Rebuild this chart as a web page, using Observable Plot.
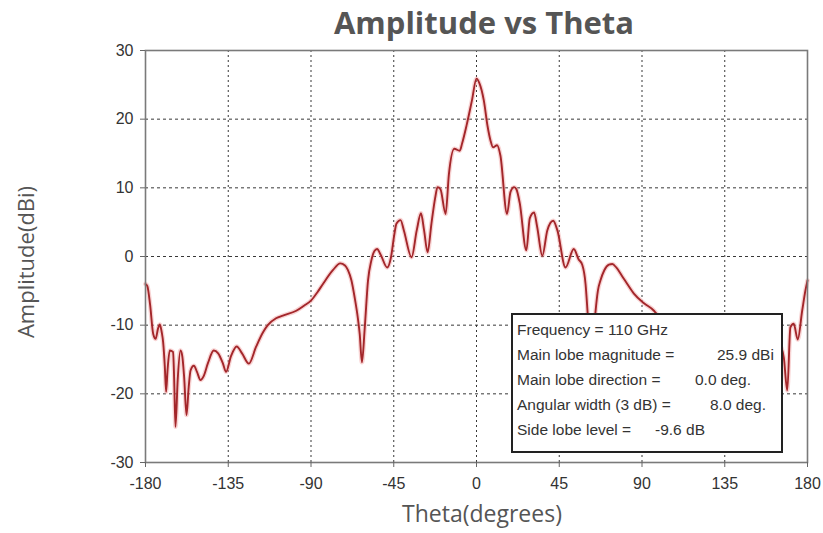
<!DOCTYPE html>
<html>
<head>
<meta charset="utf-8">
<script src="https://cdn.jsdelivr.net/npm/d3@7"></script>
<script src="https://cdn.jsdelivr.net/npm/@observablehq/plot@0.6"></script>
<style>
  html, body { margin: 0; padding: 0; background: #fff; }
  #wrap { position: relative; width: 823px; height: 533px; overflow: hidden; }
  #chart { position: absolute; left: 0; top: 0; }
  .title { position: absolute; left: 484px; top: 7px; transform: translateX(-50%); font-family: "Open Sans", sans-serif; font-weight: 700; font-size: 31px; line-height: 31px; color: #555; white-space: nowrap; }
  .xlabel { position: absolute; left: 482px; top: 502px; transform: translateX(-50%); font-family: "Open Sans", sans-serif; font-size: 23px; line-height: 23px; color: #555; white-space: nowrap; }
  .ylabel { position: absolute; left: 25px; top: 262px; transform: translate(-50%, -50%) rotate(-90deg); font-family: "Open Sans", sans-serif; font-size: 22px; line-height: 22px; color: #555; white-space: nowrap; }
  .info { position: absolute; left: 511px; top: 313px; width: 268px; height: 136px; border: 2px solid #222; background: #fff; font-family: "Liberation Sans", sans-serif; font-size: 15.5px; color: #333; }
  .info .row { position: absolute; left: 4px; height: 20px; line-height: 20px; white-space: nowrap; width: 264px; }
  .info .val { position: absolute; top: 0; }
</style>
</head>
<body>
<div id="wrap">
  <div id="chart"></div>
  <div class="title">Amplitude vs Theta</div>
  <div class="ylabel">Amplitude(dBi)</div>
  <div class="xlabel">Theta(degrees)</div>
  <div class="info" id="info"></div>
</div>
<script>
// Radiation pattern (theta in degrees, amplitude in dBi)
const theta = [
  -180, -179, -177.5, -175.8, -174.5, -173.2, -172.2, -171.2, -170.4, -169.5,
  -168.8, -168, -166.8, -165, -164.4, -163.7, -162.5, -161, -160, -159,
  -157.7, -156.5, -155.5, -153.7, -152, -150.1, -148.5, -146, -142.9, -140.5,
  -138, -136.2, -133.5, -130.4, -127.5, -123.8, -119.8, -116, -113.5, -109,
  -105.3, -98, -94, -89.9, -86.5, -83.5, -78.1, -74.1, -71.5, -69.9,
  -68, -66.3, -64.5, -63.5, -62.3, -60.8, -59, -57.2, -55.5, -54.1,
  -52, -48.6, -46.5, -44.8, -43.5, -41.3, -39.5, -35.3, -32.5, -30.2,
  -28.5, -26.6, -24.5, -22.5, -21.2, -19.6, -16.8, -15, -12.1, -9.1,
  -7.8, -5.4, -2.5, 0,
  1.5, 4, 6, 7.6, 9, 11.2, 13, 16.6, 18.5, 20.5,
  21.7, 23.5, 27.1, 29, 31.3, 33, 35.8, 38.5, 41.7, 44,
  48.4, 52.9, 55.5, 57.5, 59.3, 60.5, 62, 63.5, 64.7, 66,
  67.4, 69.5, 72, 73.9, 76, 79.3, 82, 85.6, 91.1, 96.5,
  98.3, 100, 105, 110, 115, 120, 125, 130, 135, 140,
  145, 150, 155, 160, 163, 165, 167.1, 169, 170.7, 172.5,
  174.7, 177.1, 178.9, 180
];
const amplitude = [
  -4.0, -4.3, -7, -11.3, -12.0, -10.5, -9.9, -11, -12.5, -16,
  -19.7, -16.5, -13.7, -13.9, -18, -24.8, -18, -13.7, -14.5, -17.5,
  -23.1, -19, -16.6, -15.9, -16.8, -18.0, -17.5, -15.5, -13.7, -14.1,
  -15.5, -16.8, -14.5, -13.1, -14.1, -15.6, -13.1, -11, -10.0, -9.0,
  -8.6, -7.9, -7.2, -6.4, -5.2, -4.0, -2.0, -1.0, -1.3, -2.0,
  -3.5, -5.9, -9, -11.3, -15.4, -10.5, -3.5, -0.6, 0.8, 1.1,
  0.2, -1.6, -0.1, 3.0, 4.8, 5.3, 3.8, -0.1, 3.8, 6.3,
  3.8, 0.6, 4.8, 8.5, 10.1, 9.8, 6.2, 12.0, 15.7, 15.4,
  16.5, 19.1, 22.7, 25.9,
  25.3, 22.7, 19, 16.9, 15.9, 16.2, 14.7, 6.2, 9.4, 10.1,
  9.8, 7.8, 0.9, 5.6, 6.4, 4.3, 0.1, 3.8, 5.2, 3.8,
  -1.6, 1.1, -0.4, -1.2, -4, -8.5, -15, -12, -8.1, -5,
  -3.5, -2, -1.2, -1.1, -1.6, -2.9, -4.0, -5.4, -6.8, -7.9,
  -8.5, -9.5, -12, -14, -12, -15, -13, -16, -14, -17,
  -15, -18, -16, -20, -14, -13, -14.7, -19.5, -10.3, -9.8,
  -12.1, -7.9, -4.9, -3.5
];
const xTicks = [-180, -135, -90, -45, 0, 45, 90, 135, 180];
const yTicks = [-30, -20, -10, 0, 10, 20, 30];

// Info box contents
const infoLabels = ["Frequency = 110 GHz", "Main lobe magnitude =", "Main lobe direction =", "Angular width (3 dB) =", "Side lobe level ="];
const infoValues = ["", "25.9 dBi", "0.0 deg.", "8.0 deg.", "-9.6 dB"];

const data = theta.map((t, i) => ({theta: t, amp: amplitude[i]}));
const fmt = d => String(d);

const chart = Plot.plot({
  width: 823,
  height: 533,
  marginLeft: 145,
  marginRight: 16,
  marginTop: 50,
  marginBottom: 71,
  style: {fontFamily: "Liberation Sans, sans-serif", fontSize: "16px", color: "#333", background: "transparent"},
  x: {domain: [-180, 180], ticks: xTicks, tickSize: 5, tickPadding: 10, label: null, tickFormat: fmt},
  y: {domain: [-30, 30], ticks: yTicks, tickSize: 5, tickPadding: 7, label: null, tickFormat: fmt},
  marks: [
    Plot.gridX(xTicks.slice(1, -1), {stroke: "#222", strokeOpacity: 0.9, strokeDasharray: "2,3"}),
    Plot.gridY(yTicks.slice(1, -1), {stroke: "#222", strokeOpacity: 0.9, strokeDasharray: "3,3"}),
    Plot.line(data, {x: "theta", y: "amp", stroke: "#f0a0a0", strokeOpacity: 0.45, strokeWidth: 4.5, curve: "monotone-x"}),
    Plot.line(data, {x: "theta", y: "amp", stroke: "#a3262a", strokeWidth: 1.9, curve: "monotone-x"}),
    Plot.frame({stroke: "#7a7a7a", strokeWidth: 1.6}),
    Plot.axisX(xTicks, {stroke: "#666", tickSize: 5, tickPadding: 10, fill: "#333", fontSize: 16, tickFormat: fmt}),
    Plot.axisY(yTicks, {stroke: "#666", tickSize: 5, tickPadding: 7, fill: "#333", fontSize: 16, tickFormat: fmt})
  ]
});
document.getElementById("chart").appendChild(chart);

const valueLeft = [0, 200, 178, 193, 138];
const info = document.getElementById("info");
infoLabels.forEach((lab, i) => {
  const row = document.createElement("div");
  row.className = "row";
  row.style.top = (5 + i * 25) + "px";
  row.textContent = lab;
  if (infoValues[i]) {
    const v = document.createElement("span");
    v.className = "val";
    v.style.left = valueLeft[i] + "px";
    v.textContent = infoValues[i];
    row.appendChild(v);
  }
  info.appendChild(row);
});
</script>
</body>
</html>
